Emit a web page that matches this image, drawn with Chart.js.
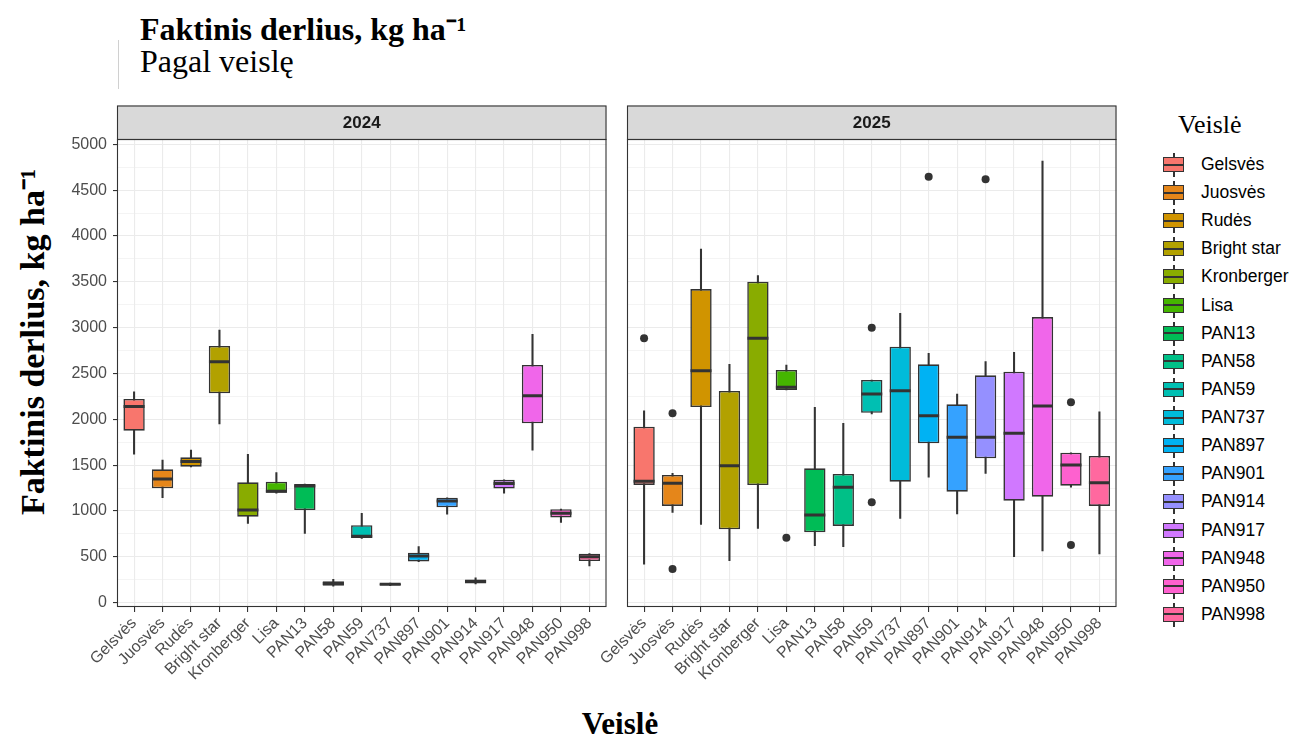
<!DOCTYPE html>
<html>
<head>
<meta charset="utf-8">
<script src="https://cdn.jsdelivr.net/npm/chart.js@4"></script>
<style>
  body { margin: 0; background: #fff; }
  #wrap { position: relative; width: 1293px; height: 740px; overflow: hidden; background: #fff; }
  .serif { font-family: "Liberation Serif", "Times New Roman", serif; color: #000; position: absolute; white-space: nowrap; }
  .leg-row { position: absolute; left: 1160px; height: 28px; }
  .leg-key { position: absolute; left: 3px; top: 6px; width: 19px; height: 13px; border: 1.5px solid #333; }
  .leg-key::after { content: ""; position: absolute; left: 0; right: 0; top: 5.5px; height: 2px; background: #333; }
  .leg-wh { position: absolute; left: 13px; top: 2px; width: 1.5px; height: 24px; background: #333; }
  .leg-lab { position: absolute; left: 41px; top: 3px; font: 17.5px "Liberation Sans", Arial, sans-serif; color: #000; white-space: nowrap; }
  canvas { position: absolute; top: 0; }
</style>
</head>
<body>
<div id="wrap">
  <div class="serif" style="left:140px;top:6px;font-size:32px;font-weight:bold;">Faktinis derlius, kg ha⁻¹</div>
  <div class="serif" style="left:140px;top:43px;font-size:32px;">Pagal veislę</div>
  <div style="position:absolute;left:118px;top:40px;width:1px;height:49px;background:#d0d0d0;"></div>
  <div class="serif" style="left:31px;top:342px;font-size:34px;font-weight:bold;transform:translate(-50%,-50%) rotate(-90deg);">Faktinis derlius, kg ha⁻¹</div>
  <div class="serif" style="left:620px;top:724px;font-size:31px;font-weight:bold;transform:translate(-50%,-50%);">Veislė</div>
  <div class="serif" style="left:1178px;top:110px;font-size:26px;">Veislė</div>
  <div id="legend"></div>
  <canvas id="c24" width="620" height="740" style="left:0"></canvas>
  <canvas id="c25" width="570" height="740" style="left:560px"></canvas>
</div>
<script>
const varieties = ['Gelsvės', 'Juosvės', 'Rudės', 'Bright star', 'Kronberger', 'Lisa', 'PAN13', 'PAN58', 'PAN59',
    'PAN737', 'PAN897', 'PAN901', 'PAN914', 'PAN917', 'PAN948', 'PAN950', 'PAN998'];

const colors = ['#F8766D', '#E5861A', '#D09400', '#B2A100', '#89AC00', '#45B500', '#00BC56', '#00C087', '#00BFB2',
    '#00BBDA', '#00B2F3', '#35A2FF', '#9590FF', '#D078FF', '#F066EA', '#FE61CF', '#FF689F'];

const yTicks = [0, 500, 1000, 1500, 2000, 2500, 3000, 3500, 4000, 4500, 5000];

// 2024
const min2024 = [1620, 1145, 1480, 1950, 865, 1195, 755, 180, 700, 185, 447, 965, 205, 1195, 1665, 875, 400];
const q1_2024 = [1876, 1248, 1484, 2284, 938, 1200, 1011, 185, 705, 190, 450, 1040, 210, 1245, 1957, 930, 455];
const med2024 = [2140, 1349, 1540, 2629, 1010, 1215, 1273, 210, 725, 200, 509, 1110, 235, 1300, 2258, 975, 500];
const q3_2024 = [2222, 1455, 1586, 2800, 1313, 1320, 1295, 235, 845, 210, 545, 1145, 250, 1340, 2593, 1020, 535];
const max2024 = [2301, 1556, 1665, 2974, 1618, 1418, 1295, 255, 975, 215, 611, 1145, 270, 1340, 2927, 1020, 535];
const out2024 = [];

// 2025
const min2025 = [419, 986, 855, 458, 811, 2320, 622, 611, 2060, 920, 1368, 967, 1411, 502, 564, 1260, 531];
const q1_2025 = [1285, 1055, 2134, 800, 1284, 2320, 768, 837, 2072, 1320, 1738, 1211, 1575, 1113, 1156, 1276, 1055];
const med2025 = [1325, 1302, 2531, 1494, 2884, 2349, 957, 1259, 2276, 2312, 2040, 1804, 1804, 1848, 2145, 1502, 1309];
const q3_2025 = [1920, 1393, 3421, 2309, 3501, 2538, 1466, 1404, 2429, 2792, 2600, 2164, 2480, 2520, 3116, 1636, 1600];
const max2025 = [2094, 1411, 3858, 2600, 3567, 2593, 2131, 1957, 2429, 3157, 2720, 2276, 2629, 2731, 4818, 1636, 2083];
const out2025 = [['Gelsvės', 2884], ['Juosvės', 2066], ['Juosvės', 368], ['Lisa', 709], ['PAN59', 3000], ['PAN59', 1095],
    ['PAN897', 4647], ['PAN914', 4618], ['PAN950', 2186], ['PAN950', 629]];

const sans = '"Liberation Sans", Arial, sans-serif';

const panelPlugin = {
    id: 'panel',
    afterDraw(chart, args, opts) {
        const { ctx, chartArea: a } = chart;
        const stripH = 33.5;
        ctx.save();
        ctx.fillStyle = '#D9D9D9';
        ctx.fillRect(a.left, a.top - stripH, a.right - a.left, stripH);
        ctx.strokeStyle = '#333';
        ctx.lineWidth = 1.1;
        ctx.strokeRect(a.left + 0.5, a.top - stripH + 0.5, a.right - a.left - 1, stripH);
        ctx.fillStyle = '#1A1A1A';
        ctx.font = 'bold 17px ' + sans;
        ctx.textAlign = 'center';
        ctx.textBaseline = 'middle';
        ctx.fillText(opts.label, (a.left + a.right) / 2, a.top - stripH / 2 + 1);
        ctx.strokeRect(a.left + 0.5, a.top + 0.5, a.right - a.left - 1, a.bottom - a.top - 1);
        ctx.restore();
    }
};

const boxDatasets = (mins, q1s, meds, q3s, maxs, outs) => [
    {
        type: 'bar',
        data: varieties.map((v, i) => ({ x: i, y: [mins[i], maxs[i]] })),
        backgroundColor: '#333',
        barThickness: 1.4,
        grouped: false,
        order: 4
    },
    {
        type: 'bar',
        data: varieties.map((v, i) => ({ x: i, y: [q1s[i], q3s[i]] })),
        backgroundColor: colors,
        borderColor: '#333',
        borderWidth: 1.6,
        borderSkipped: false,
        barPercentage: 0.75,
        categoryPercentage: 1,
        grouped: false,
        order: 3
    },
    {
        type: 'line',
        data: varieties.map((v, i) => ({ x: i, y: meds[i] })),
        showLine: false,
        pointStyle: 'line',
        pointRadius: 10.5,
        pointBorderWidth: 3,
        pointBorderColor: '#333',
        order: 2
    },
    {
        type: 'line',
        data: outs.map(o => ({ x: varieties.indexOf(o[0]), y: o[1] })),
        showLine: false,
        pointRadius: 4,
        pointBackgroundColor: '#333',
        pointBorderWidth: 0,
        order: 1
    }
];

const chartOptions = (label, yWidth, padRight, showY) => ({
    responsive: false,
    animation: false,
    layout: { padding: { top: 139, right: padRight, left: 0, bottom: 0 } },
    plugins: {
        legend: { display: false },
        tooltip: { enabled: false },
        panel: { label: label }
    },
    scales: {
        x: {
            type: 'linear',
            offset: false,
            min: -0.6,
            max: 16.6,
            afterBuildTicks: (axis) => { axis.ticks = varieties.map((v, i) => ({ value: i })); },
            afterFit: (axis) => { axis.height = 133; axis.paddingLeft = 0; axis.paddingRight = 0; },
            border: { display: false },
            grid: { offset: false, color: '#EBEBEB', lineWidth: 1.1, tickLength: 5, tickColor: '#333', tickWidth: 1.1 },
            ticks: {
                autoSkip: false,
                minRotation: 45,
                maxRotation: 45,
                padding: 2,
                color: '#4D4D4D',
                font: { family: sans, size: 16 },
                callback: (v) => varieties[v]
            }
        },
        y: {
            min: -47,
            max: 5058,
            afterBuildTicks: (axis) => {
                const t = [];
                yTicks.forEach((v, i) => {
                    t.push({ value: v });
                    if (i < yTicks.length - 1) t.push({ value: (v + yTicks[i + 1]) / 2 });
                });
                axis.ticks = t;
            },
            afterFit: (axis) => { axis.width = yWidth; },
            border: { display: false },
            grid: {
                color: '#EBEBEB',
                lineWidth: (c) => yTicks.includes(c.tick.value) ? 1.1 : 0.55,
                drawTicks: showY,
                tickLength: 4,
                tickColor: (c) => yTicks.includes(c.tick.value) ? '#333' : 'rgba(0,0,0,0)',
                tickWidth: 1.1
            },
            ticks: {
                display: showY,
                padding: 6,
                color: '#4D4D4D',
                font: { family: sans, size: 16 },
                callback: (v) => yTicks.includes(v) ? String(v) : ''
            }
        }
    }
});

new Chart(document.getElementById('c24'), {
    type: 'bar',
    data: { datasets: boxDatasets(min2024, q1_2024, med2024, q3_2024, max2024, out2024) },
    options: chartOptions('2024', 117, 4, true),
    plugins: [panelPlugin]
});

new Chart(document.getElementById('c25'), {
    type: 'bar',
    data: { datasets: boxDatasets(min2025, q1_2025, med2025, q3_2025, max2025, out2025) },
    options: chartOptions('2025', 67, 3, false),
    plugins: [panelPlugin]
});

// legend
const legend = document.getElementById('legend');
varieties.forEach((v, i) => {
    const row = document.createElement('div');
    row.className = 'leg-row';
    row.style.top = (151 + i * 28.12) + 'px';
    row.innerHTML = '<div class="leg-wh"></div><div class="leg-key" style="background:' + colors[i] + '"></div>' +
        '<div class="leg-lab">' + v + '</div>';
    legend.appendChild(row);
});
</script>
</body>
</html>
